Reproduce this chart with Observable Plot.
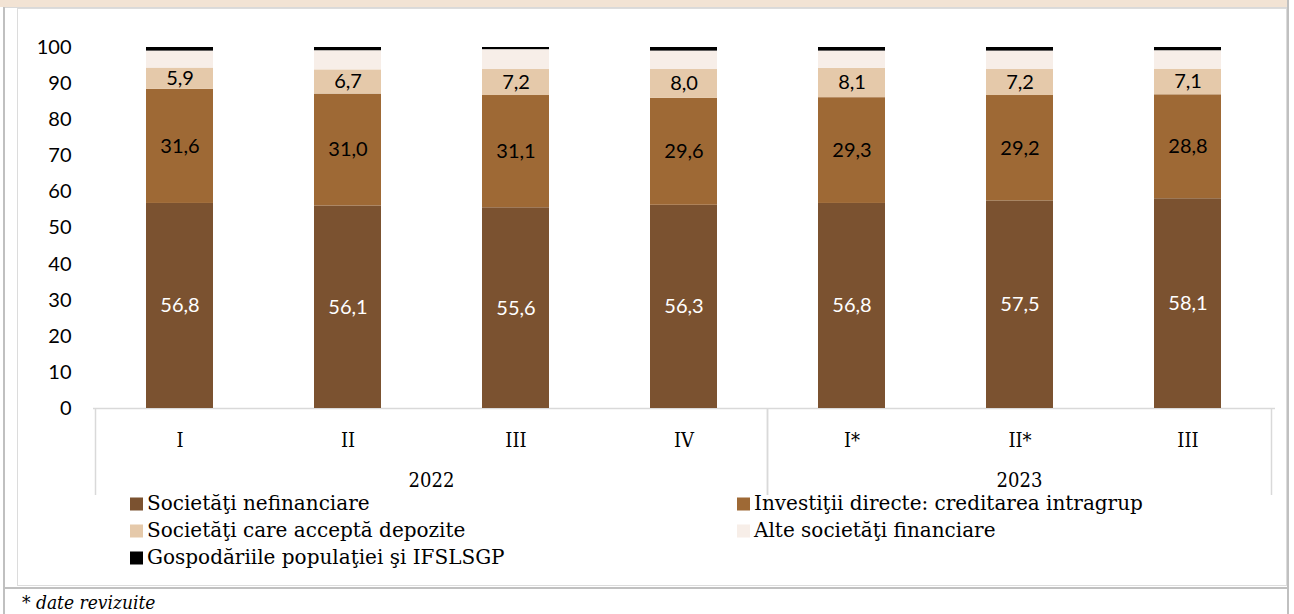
<!DOCTYPE html>
<html>
<head>
<meta charset="utf-8">
<script src="https://cdn.jsdelivr.net/npm/d3@7"></script>
<script src="https://cdn.jsdelivr.net/npm/@observablehq/plot@0.6"></script>
<style>
  body { margin: 0; background: #fff; }
  #wrap { position: relative; width: 1294px; height: 614px; overflow: hidden; background: #fff; }
  .fr { position: absolute; }
  #chart { position: absolute; left: 0; top: 0; }
</style>
</head>
<body>
<div id="wrap">
  <div class="fr" style="left:0;top:0;width:1288px;height:7px;background:#f2e3d4;"></div>
  <div class="fr" style="left:3px;top:7px;width:1285px;height:1px;background:#d9d9d9;"></div>
  <div class="fr" style="left:3px;top:7px;width:2px;height:607px;background:#c0c0c0;"></div>
  <div class="fr" style="left:1287px;top:0;width:2px;height:614px;background:#c0c0c0;"></div>
  <div class="fr" style="left:17px;top:8px;width:1268px;height:576px;border:1px solid #dcdcdc;"></div>
  <div class="fr" style="left:3px;top:587px;width:1286px;height:2px;background:#c0c0c0;"></div>
  <div id="chart"></div>
</div>
<script>
const quarters = ["I", "II", "III", "IV", "I*", "II*", "III"];
const years = ["2022", "2022", "2022", "2022", "2023", "2023", "2023"];
const seriesNames = [
  "Societăţi nefinanciare",
  "Investiţii directe: creditarea intragrup",
  "Societăţi care acceptă depozite",
  "Alte societăţi financiare",
  "Gospodăriile populaţiei şi IFSLSGP"
];
const nefinanciare = [56.8, 56.1, 55.6, 56.3, 56.8, 57.5, 58.1];
const intragrup    = [31.6, 31.0, 31.1, 29.6, 29.3, 29.2, 28.8];
const depozite     = [5.9, 6.7, 7.2, 8.0, 8.1, 7.2, 7.1];
const alte         = [4.7, 5.3, 5.5, 5.1, 4.8, 5.1, 5.1];
const gospodarii   = [1.0, 0.9, 0.6, 1.0, 1.0, 1.0, 0.9];
const colors = ["#7b5230", "#9e6935", "#e5c9aa", "#f7eee8", "#000000"];
const yTicks = [0, 10, 20, 30, 40, 50, 60, 70, 80, 90, 100];
const footnote = "* date revizuite";

const SERIF_C = "'DejaVu Serif Condensed', 'DejaVu Serif', serif";
const SERIF = "'DejaVu Serif', serif";
const SANS = "Lato, 'Open Sans', sans-serif";

const keys = quarters.map((q, i) => years[i] + " " + q);
const quarterOf = Object.fromEntries(keys.map((k, i) => [k, quarters[i]]));
const seriesValues = [nefinanciare, intragrup, depozite, alte, gospodarii];
const rows = [];
keys.forEach((k, i) => seriesValues.forEach((arr, s) => rows.push({key: k, series: seriesNames[s], s, value: arr[i]})));
const fmt = v => v.toFixed(1).replace(".", ",");

const chart = Plot.plot({
  width: 1294,
  height: 614,
  marginTop: 47,
  marginBottom: 206,
  marginLeft: 93,
  marginRight: 19,
  style: {background: "transparent", overflow: "visible", fontFamily: SANS},
  x: {domain: keys, paddingInner: 0.6, paddingOuter: 0.3, axis: null},
  y: {domain: [0, 100], axis: null},
  color: {domain: seriesNames, range: colors},
  marks: [
    Plot.ruleY([0], {stroke: "#d9d9d9", strokeWidth: 1.5}),
    Plot.barY(rows, {x: "key", y: "value", z: "series", fill: "series"}),
    Plot.text(rows, Plot.stackY({x: "key", y: "value", z: "series",
      text: d => d.s === 0 ? fmt(d.value) : null, fill: "white", fontFamily: SANS, fontSize: 20})),
    Plot.text(rows, Plot.stackY({x: "key", y: "value", z: "series",
      text: d => (d.s === 1 || d.s === 2) ? fmt(d.value) : null, fill: "black", fontFamily: SANS, fontSize: 20})),
    Plot.axisY({ticks: yTicks, tickSize: 0, tickPadding: 22, label: null, fontFamily: SANS, fontSize: 20, fill: "black"}),
    Plot.axisX({tickSize: 0, tickPadding: 24, label: null, tickFormat: k => quarterOf[k], fontFamily: SERIF_C, fontSize: 20, fill: "black"})
  ]
});
document.getElementById("chart").appendChild(chart);

// Category group boxes and year labels from the x scale
const sx = chart.scale("x");
const sy = chart.scale("y");
const gap = (sx.step - sx.bandwidth) / 2;
const y0 = sy.apply(0);
const svg = d3.select(chart);
const g = svg.append("g").attr("text-anchor", "start");
const groups = d3.groups(keys.map((k, i) => ({k, year: years[i]})), d => d.year);
groups.forEach(([yr, items]) => {
  const left = sx.apply(items[0].k) - gap;
  const right = sx.apply(items[items.length - 1].k) + sx.bandwidth + gap;
  [left, right].forEach(x => g.append("line")
    .attr("x1", x).attr("x2", x).attr("y1", y0).attr("y2", y0 + 87)
    .attr("stroke", "#d9d9d9").attr("stroke-width", 1.5));
  g.append("text").attr("x", (left + right) / 2).attr("y", y0 + 79)
    .attr("text-anchor", "middle").attr("font-family", SERIF_C).attr("font-size", 20)
    .attr("fill", "black").text(yr);
});

// Legend (two columns, row-wise)
const color = chart.scale("color");
const legCol = [0, 1, 0, 1, 0];
const legRow = [0, 0, 1, 1, 2];
const legX = [130, 737];
const legY = [510, 537, 564];
seriesNames.forEach((name, i) => {
  const x = legX[legCol[i]], y = legY[legRow[i]];
  g.append("rect").attr("x", x).attr("y", y - 12.5).attr("width", 13).attr("height", 13)
    .attr("fill", color.apply(name));
  g.append("text").attr("x", x + 17).attr("y", y).attr("text-anchor", "start")
    .attr("font-family", SERIF).attr("font-size", 20).attr("fill", "black").text(name);
});

// Footnote
g.append("text").attr("x", 22).attr("y", 609).attr("text-anchor", "start")
  .attr("font-family", SERIF_C).attr("font-style", "italic").attr("font-size", 19)
  .attr("fill", "black").text(footnote);
</script>
</body>
</html>
